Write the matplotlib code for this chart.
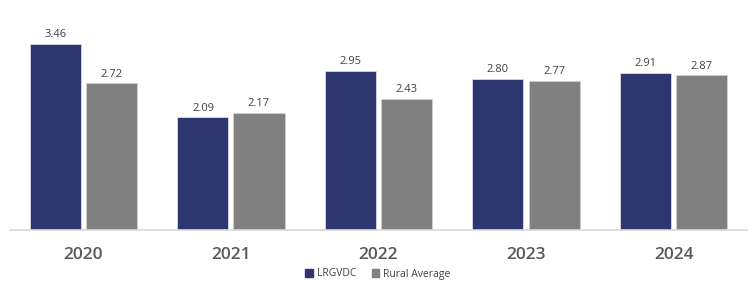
import numpy as np
import matplotlib.pyplot as plt
from matplotlib.patches import Patch

plt.rcParams['font.family'] = ['Open Sans', 'DejaVu Sans']

# Data
years = ['2020', '2021', '2022', '2023', '2024']
lrgvdc = [3.46, 2.09, 2.95, 2.80, 2.91]
rural_avg = [2.72, 2.17, 2.43, 2.77, 2.87]

blue = '#2E3670'
gray = '#808080'

fig = plt.figure(figsize=(7.48, 2.87), dpi=100)
ax = fig.add_axes([10 / 748, 57 / 287, 738 / 748, 230 / 287])

x = np.arange(len(years))
w = 0.346
off = 0.19
b1 = ax.bar(x - off, lrgvdc, w, color=blue, edgecolor='#d9d9e6', linewidth=0.6)
b2 = ax.bar(x + off, rural_avg, w, color=gray, edgecolor='#d0d0d0', linewidth=0.6)

for bars, vals in [(b1, lrgvdc), (b2, rural_avg)]:
    for bar, v in zip(bars, vals):
        ax.text(bar.get_x() + bar.get_width() / 2, v + 0.07, f'{v:.2f}',
                ha='center', va='bottom', fontsize=8, color='#404040')

ax.set_xlim(-0.498, 4.505)
ax.set_ylim(0, 4.27)
ax.set_yticks([])
ax.set_xticks(x)
ax.set_xticklabels(years, fontsize=12.5, fontweight='semibold', color='#595959')
ax.tick_params(axis='x', length=0, pad=12)
for s in ['top', 'right', 'left']:
    ax.spines[s].set_visible(False)
ax.spines['bottom'].set_color('#d9d9d9')
ax.spines['bottom'].set_linewidth(1.2)

handles = [Patch(color=blue, label='LRGVDC'), Patch(color=gray, label='Rural Average')]
fig.legend(handles=handles, loc='center', bbox_to_anchor=(378 / 748, 1 - 274 / 287),
           ncol=2, frameon=False, fontsize=7.5, handlelength=0.7, handleheight=0.7,
           handletextpad=0.4, columnspacing=1.5, labelcolor='#404040')

fig.savefig('out.png', dpi=100)
